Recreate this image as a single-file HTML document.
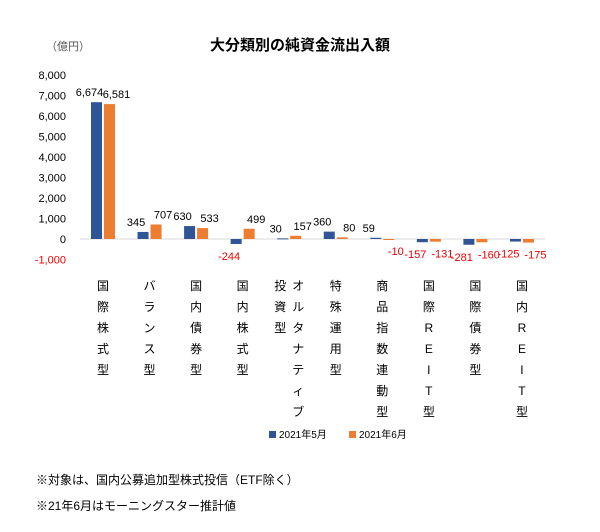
<!DOCTYPE html>
<html><head><meta charset="utf-8"><style>
body{margin:0;background:#fff;font-family:"Liberation Sans","Noto Sans CJK JP",sans-serif;}
svg text{font-family:"Liberation Sans","Noto Sans CJK JP",sans-serif;}
</style></head><body>
<svg id="c" width="600" height="527" viewBox="0 0 600 527">
<text x="300" y="50" text-anchor="middle" font-size="15" font-weight="bold" fill="#000">大分類別の純資金流出入額</text>
<text x="46" y="50" font-size="11" fill="#555">（億円）</text>
<g id="axis"></g><g id="bars"></g><g id="labels"></g><g id="cats"></g>
<g>
<rect x="269" y="431" width="7" height="7" fill="#2f5597"/>
<text x="279" y="438" font-size="10" fill="#000">2021年5月</text>
<rect x="349" y="431" width="7" height="7" fill="#ed7d31"/>
<text x="359" y="438" font-size="10" fill="#000">2021年6月</text>
</g>
<text x="36" y="484" font-size="12" fill="#000">※対象は、国内公募追加型株式投信（ETF除く）</text>
<text x="36" y="510" font-size="12" fill="#000">※21年6月はモーニングスター推計値</text>
</svg>
<script>
const categories=["国際株式型","バランス型","国内債券型","国内株式型","オルタナティブ投資型","特殊運用型","商品指数連動型","国際REIT型","国際債券型","国内REIT型"];
const may=[6674,345,630,-244,30,360,59,-157,-281,-125];
const june=[6581,707,533,499,157,80,-10,-131,-160,-175];
const ticks=[-1000,0,1000,2000,3000,4000,5000,6000,7000,8000];
const NS="http://www.w3.org/2000/svg";
const y0=239,k=20.5/1000;
const yS=v=>y0-v*k;
const xC=i=>103+i*46.55;
function mk(t,a,p){const e=document.createElementNS(NS,t);for(const n in a)e.setAttribute(n,a[n]);p.appendChild(e);return e;}
const ax=document.getElementById('axis'),bg=document.getElementById('bars'),lg=document.getElementById('labels'),cg=document.getElementById('cats');
ticks.forEach(t=>{const e=mk('text',{x:66,y:yS(t)+4,'text-anchor':'end','font-size':11,fill:t<0?'#e00':'#000'},ax);e.textContent=t.toLocaleString('en-US');

});
const base=mk('line',{x1:80,x2:545,y1:y0,y2:y0,stroke:'#d9d9d9'},ax);


function bar(i,v,col,dx,ldx,name){const y=Math.min(yS(v),y0),h=Math.max(Math.abs(v*k),1);
const r=mk('rect',{x:xC(i)+dx,y:y,width:11,height:h,fill:col},bg);


const t=mk('text',{x:xC(i)+dx+5.5+ldx,y:v>=0?yS(v)-6:yS(v)+16,'text-anchor':'middle','font-size':11,fill:v<0?'#e00':'#000'},lg);
t.textContent=v.toLocaleString('en-US');

}
categories.forEach((c,i)=>{bar(i,may[i],'#2f5597',-12,-7,'bar-may-'+i);bar(i,june[i],'#ed7d31',1,7,'bar-june-'+i);
let cols=[c];
if(c==="オルタナティブ投資型")cols=["オルタナティブ","投資型"];
cols.forEach((s,j)=>{const cx=cols.length>1?(j==0?xC(i)+9:xC(i)-9):xC(i);
[...s].forEach((ch,m)=>{const t=mk('text',{x:cx,y:290+m*21,'text-anchor':'middle','font-size':12,fill:'#000'},cg);t.textContent=ch;

});});});
</script>
</body></html>
